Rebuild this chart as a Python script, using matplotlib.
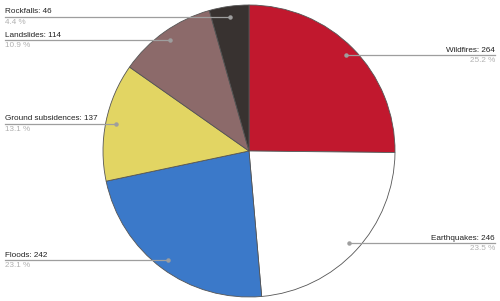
import numpy as np
import matplotlib.pyplot as plt

plt.rcParams['font.family'] = ['Liberation Sans', 'DejaVu Sans']

labels = ["Wildfires", "Earthquakes", "Floods", "Ground subsidences",
          "Landslides", "Rockfalls"]
values = [264, 246, 242, 137, 114, 46]
colors = ["#C1182E", "#FFFFFF", "#3B79C9", "#E2D563", "#8C6A6A", "#383230"]

W, H = 500, 301
cx, cy, R = 249, 150, 146

fig = plt.figure(figsize=(5, 3.01), dpi=100)
ax = fig.add_axes([0, 0, 1, 1])
wedges, _ = ax.pie(values, colors=colors, startangle=90, counterclock=False,
                   center=(cx, cy), radius=R, frame=True,
                   wedgeprops=dict(linewidth=0.6, edgecolor="#555555"))
ax.set_xlim(0, W)
ax.set_ylim(0, H)
ax.set_aspect("equal")
ax.axis("off")

total = sum(values)
for lab, v, w in zip(labels, values, wedges):
    mid = np.deg2rad((w.theta1 + w.theta2) / 2)
    px = cx + 0.93 * R * np.cos(mid)
    py = cy + 0.93 * R * np.sin(mid)
    right = np.cos(mid) > 0
    tx = 495 if right else 5
    ha = "right" if right else "left"
    # horizontal leader line from the dot to the label
    ax.plot([px, tx], [py, py], color="#9E9E9E", lw=0.9)
    ax.plot(px, py, "o", color="#9E9E9E", ms=2.2)
    ax.text(tx, py + 1.5, f"{lab}: {v}", ha=ha, va="bottom",
            fontsize=5.9, color="#222222")
    ax.text(tx, py - 2, f"{v / total * 100:.1f} %", ha=ha, va="top",
            fontsize=5.9, color="#B0B0B0")

fig.savefig("out.png", dpi=100)
